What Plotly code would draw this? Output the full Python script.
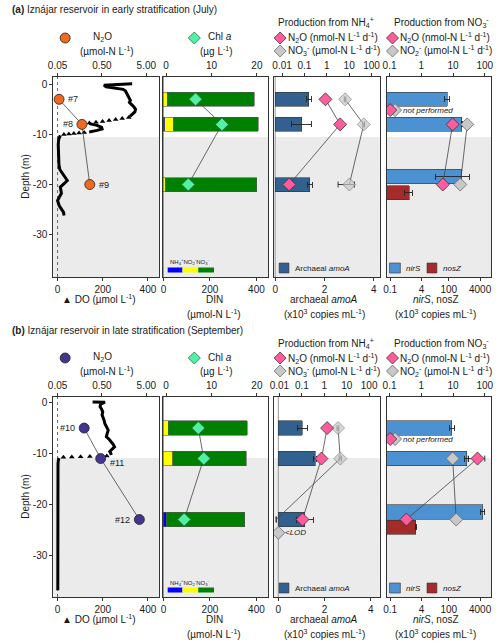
import math
import plotly.graph_objects as go

W, H = 500, 644
FONT = "Liberation Sans, Arial, sans-serif"
TXT = "#1a1a1a"

# ===================== DATA: (a) July =====================
n2o_depth_a = [-3, -8, -20]
n2o_a = [0.054, 0.177, 0.266]
n2o_label_a = ["#7", "#8", "#9"]

do_line_depth_a = [0.1, 0.0, -0.1, -0.2, -0.5, -0.8, -1.0, -1.3, -1.8, -2.3, -2.8, -3.2, -3.6, -4.0, -4.5, -5.0, -5.5, -6.0, -6.4,
                   None, -7.85, -8.2, -8.6, -8.9, -9.2, -9.5,
                   None, -10.2, -10.5, -11, -12, -13, -14, -15, -16, -17, -17.8, -18.6, -19.2, -19.8, -20.5, -21.2, -21.8, -22.5, -23.2, -24.2, -25.0, -25.5, -26.2]
do_line_a = [330, 290, 240, 205, 215, 260, 290, 300, 305, 312, 318, 322, 318, 328, 338, 345, 342, 330, 320,
             None, 140, 175, 195, 197, 175, 140,
             None, 12, 8, 5, 3, 3, 4, 5, 6, 10, 21, 35, 43, 30, 12, 15, 17, 8, 0, 7, 18, 26, 29]
do_tri_depth_a = [-6.6, -6.8, -7.0, -7.2, -7.4, -7.55, -7.7, -9.6, -9.7, -9.8, -9.9, -10.0]
do_tri_a = [315, 286, 257, 228, 199, 170, 141, 118, 95, 72, 50, 28]

din_depth_a = [-3, -8, -20]
nh4_a = [0, 6, 0]
no2_a = [17, 36, 8]
no3_a = [373, 365, 393]
chl_a = [6.5, 12.3, 4.9]

amoA_depth_a = [-3, -8, -20]
amoA_a = [1.37, 1.07, 1.41]
amoA_err_a = [0.1, 0.4, 0.09]
n2o_nh4_a = [0.87, 3.97, 0.021]
n2o_nh4_err_a = [0.05, 0.6, 0.003]
no3_nh4_a = [6.6, 45, 10.2]
no3_nh4_err_a = [0.5, 4, 7]
no3_nh4_lod_a = [False, False, False]

nirS_depth_a = [-3, -8, -18.4]
nirS_a = [81, 465, 470]
nirS_errp_a = [25, 30, 630]
nirS_errm_a = [20, 30, 450]
nosZ_depth_a = [-21.6]
nosZ_a = [0.94]
nosZ_err_a = [0.4]
no3_incub_depth_a = [-8, -20]
n2o_no3_a = [9.7, 4.75]
n2o_no3_errp_a = [1.5, 1.0]
n2o_no3_errm_a = [1.5, 1.0]
no2_no3_a = [28, 16.9]
no2_no3_err_a = [4, 3]
not_performed_depth_a = -3
hypolimnion_top_a = -10.5

# ===================== DATA: (b) September =====================
n2o_depth_b = [-5, -11, -23]
n2o_b = [0.199, 0.468, 3.49]
n2o_label_b = ["#10", "#11", "#12"]

do_line_depth_b = [0.15, 0.2, 0.1, -0.3, -0.8, -1.3, -1.8, -2.4, -3.0, -3.5, -4.1, -4.7, -5.4, -6.0, -6.7, -7.2, -7.7, -8.2, -8.7, -9.2, -9.6, -10.0, -10.3,
                   None, -10.9, -11.2, -12, -14, -17, -20, -25, -30, -35, -36.9]
do_line_b = [155, 185, 210, 190, 188, 195, 200, 197, 203, 206, 209, 215, 224, 220, 216, 228, 238, 246, 252, 242, 231, 236, 238,
             None, 7, 4, 2, 2, 1.5, 1, 1, 1, 1, 1]
do_tri_depth_b = [-10.5, -10.55, -10.6, -10.65, -10.7, -10.75]
do_tri_b = [218, 182, 143, 102, 63, 26]

din_depth_b = [-5, -11, -23]
nh4_b = [0, 0, 11]
no2_b = [21, 39, 0]
no3_b = [339, 318, 339]
chl_b = [7.1, 8.3, 4.0]

amoA_depth_b = [-5, -11, -23]
amoA_b = [1.04, 1.59, 1.15]
amoA_err_b = [0.21, 0.05, 0.38]
n2o_nh4_b = [1.34, 0.75, 0.107]
n2o_nh4_err_b = [0.15, 0.08, 0.015]
no3_nh4_b = [4.1, 5.2, 0.0072]
no3_nh4_err_b = [0.4, 0.6, 0]
no3_nh4_lod_b = [False, False, True]

nirS_depth_b = [-5, -11, -21.5]
nirS_b = [145, 830, 5330]
nirS_errp_b = [45, 200, 1700]
nirS_errm_b = [30, 200, 1000]
nosZ_depth_b = [-24.5]
nosZ_b = [2.06]
nosZ_err_b = [0.2]
no3_incub_depth_b = [-11, -23]
n2o_no3_b = [59, 0.34]
n2o_no3_errp_b = [41, 0.05]
n2o_no3_errm_b = [29, 0.05]
no2_no3_b = [9.7, 12.6]
no2_no3_err_b = [1.5, 1.5]
not_performed_depth_b = -5
hypolimnion_top_b = -10.9

# ===================== STYLE =====================
C_N2O = ["#F06A1E", "#45358C"]
C_CHL = "#52F0A2"
C_NH4, C_NO2, C_NO3 = "#0000FF", "#FFFF00", "#008000"
C_AMOA = "#33618F"
C_NIRS = "#4C92D3"
C_NOSZ = "#A52A2A"
C_PINK = "#FF5C9E"
C_GRAY = "#C8C8C8"
C_BG = "#EBEBEB"
LINK = dict(color="#444", width=0.8)

COLS = [(49, 156), (160, 267), (273, 380), (387, 493)]
ROWS = [(77, 277), (397, 597)]
DEPTH_RANGE = [[-38.46, 1.46], [-38.25, 1.12]]

fig = go.Figure()
shapes, annots = [], []


def sfx(i):
    return "" if i == 1 else str(i)


def A(text, x, y, size=10, xanchor="center", **kw):
    annots.append(dict(text=text, x=x / W, y=1 - y / H, xref="paper", yref="paper", showarrow=False,
                       xanchor=xanchor, yanchor="middle", font=dict(size=size, family=FONT, color=TXT), **kw))


def rect_px(x0, y0, x1, y1, fill, line="#333", lw=0.6):
    shapes.append(dict(type="rect", xref="paper", yref="paper", x0=x0 / W, x1=x1 / W, y0=1 - y1 / H, y1=1 - y0 / H,
                       fillcolor=fill, line=dict(color=line, width=lw)))


def circle_px(x, y, r, fill):
    shapes.append(dict(type="circle", xref="paper", yref="paper", xsizemode="pixel", ysizemode="pixel",
                       xanchor=x / W, yanchor=1 - y / H, x0=-r, x1=r, y0=-r, y1=r,
                       fillcolor=fill, line=dict(color="#222", width=0.8)))


def diamond_px(x, y, r, fill, line="#333"):
    shapes.append(dict(type="path", xref="paper", yref="paper", xsizemode="pixel", ysizemode="pixel",
                       xanchor=x / W, yanchor=1 - y / H, path=f"M0,{-r} L{r},0 L0,{r} L{-r},0 Z",
                       fillcolor=fill, line=dict(color=line, width=0.8)))


def err(arr, minus=None, w=3):
    d = dict(type="data", array=arr, color="#222", thickness=0.9, width=w, visible=True)
    if minus is not None:
        d["arrayminus"] = minus
    return d


rows_data = [
    dict(n2o_depth=n2o_depth_a, n2o=n2o_a, lab=n2o_label_a, side=[1, -1, 1], dy=[0, 0, 0],
         dld=do_line_depth_a, dl=do_line_a, dtd=do_tri_depth_a, dt=do_tri_a,
         din_depth=din_depth_a, nh4=nh4_a, no2=no2_a, no3=no3_a, chl=chl_a,
         amo_depth=amoA_depth_a, amo=amoA_a, amo_err=amoA_err_a,
         pn2o=n2o_nh4_a, pn2o_err=n2o_nh4_err_a, pno3=no3_nh4_a, pno3_err=no3_nh4_err_a, lod=no3_nh4_lod_a,
         nir_depth=nirS_depth_a, nir=nirS_a, nir_ep=nirS_errp_a, nir_em=nirS_errm_a,
         nos_depth=nosZ_depth_a, nos=nosZ_a, nos_err=nosZ_err_a,
         q_depth=no3_incub_depth_a, qn2o=n2o_no3_a, qn2o_ep=n2o_no3_errp_a, qn2o_em=n2o_no3_errm_a,
         qno2=no2_no3_a, qno2_err=no2_no3_err_a, npd=not_performed_depth_a, hypo=hypolimnion_top_a,
         title="<b>(a)</b> Iznájar reservoir in early stratification (July)",
         amo_range=[-0.04, 4.24], p3top=[-2.352, 2.366]),
    dict(n2o_depth=n2o_depth_b, n2o=n2o_b, lab=n2o_label_b, side=[-1, 1, -1], dy=[0, -4, 0],
         dld=do_line_depth_b, dl=do_line_b, dtd=do_tri_depth_b, dt=do_tri_b,
         din_depth=din_depth_b, nh4=nh4_b, no2=no2_b, no3=no3_b, chl=chl_b,
         amo_depth=amoA_depth_b, amo=amoA_b, amo_err=amoA_err_b,
         pn2o=n2o_nh4_b, pn2o_err=n2o_nh4_err_b, pno3=no3_nh4_b, pno3_err=no3_nh4_err_b, lod=no3_nh4_lod_b,
         nir_depth=nirS_depth_b, nir=nirS_b, nir_ep=nirS_errp_b, nir_em=nirS_errm_b,
         nos_depth=nosZ_depth_b, nos=nosZ_b, nos_err=nosZ_err_b,
         q_depth=no3_incub_depth_b, qn2o=n2o_no3_b, qn2o_ep=n2o_no3_errp_b, qn2o_em=n2o_no3_errm_b,
         qno2=no2_no3_b, qno2_err=no2_no3_err_b, npd=not_performed_depth_b, hypo=hypolimnion_top_b,
         title="<b>(b)</b> Iznájar reservoir in late stratification (September)",
         amo_range=[-0.18, 4.39], p3top=[-2.233, 2.47]),
]

layout_axes = {}


def base_axis(**kw):
    d = dict(showgrid=False, zeroline=False, showline=True, linecolor="#333", linewidth=1,
             ticks="outside", ticklen=3, tickwidth=1, tickcolor="#333",
             tickfont=dict(size=10, family=FONT, color=TXT))
    d.update(kw)
    return d


for r, d in enumerate(rows_data):
    oy = 320 * r
    p1, p2, p3, p4 = 4 * r + 1, 4 * r + 2, 4 * r + 3, 4 * r + 4
    t1, t2, t3, t4 = p1 + 8, p2 + 8, p3 + 8, p4 + 8
    yr = DEPTH_RANGE[r]
    ydom = [1 - ROWS[r][1] / H, 1 - ROWS[r][0] / H]

    bottom_specs = [
        dict(type="linear", range=[-18.8, 448], tickvals=[0, 200, 400]),
        dict(type="linear", range=[-3, 451], tickvals=[0, 200, 400]),
        dict(type="linear", range=d["amo_range"], tickvals=[0, 2, 4]),
        dict(type="log", range=[-1.187, 4.167], tickvals=[0.1, 4, 100, 4000], ticktext=["0.1", "4", "100", "4000"]),
    ]
    top_specs = [
        dict(type="log", range=[-1.397, 0.981], tickvals=[0.05, 0.5, 5], ticktext=["0.05", "0.50", "5.00"]),
        dict(type="linear", range=[-0.72, 22.5], tickvals=[0, 10, 20]),
        dict(type="log", range=d["p3top"], tickvals=[0.01, 0.1, 1, 10, 100], ticktext=["0.01", "0.1", "1", "10", "100"]),
        dict(type="log", range=[-1.093, 2.199], tickvals=[0.1, 1, 10, 100], ticktext=["0.1", "1", "10", "100"]),
    ]
    for c in range(4):
        p = 4 * r + c + 1
        t = p + 8
        xdom = [COLS[c][0] / W, COLS[c][1] / W]
        layout_axes["xaxis" + sfx(p)] = base_axis(domain=xdom, anchor="y" + sfx(p), side="bottom", mirror=True,
                                                  **bottom_specs[c])
        layout_axes["xaxis" + sfx(t)] = base_axis(overlaying="x" + sfx(p), anchor="y" + sfx(p), side="top",
                                                  showline=False, **top_specs[c])
        yspec = base_axis(domain=ydom, anchor="x" + sfx(p), range=yr, mirror=True,
                          tickvals=[0, -10, -20, -30], ticktext=["0", "-10", "-20", "-30"])
        if c > 0:
            yspec.update(showticklabels=False, ticks="")
        layout_axes["yaxis" + sfx(p)] = yspec
        # hypolimnion shading
        shapes.append(dict(type="rect", xref="x" + sfx(p) + " domain", yref="y" + sfx(p), x0=0, x1=1,
                           y0=d["hypo"], y1=yr[0], fillcolor=C_BG, line=dict(width=0), layer="below"))

    # zero reference lines
    shapes.append(dict(type="line", xref="x" + sfx(p1), yref="y" + sfx(p1) + " domain", x0=0, x1=0, y0=0, y1=1,
                       line=dict(color="#666", width=1, dash="dot"), layer="below"))
    for p in (p2, p3):
        shapes.append(dict(type="line", xref="x" + sfx(p), yref="y" + sfx(p) + " domain", x0=0, x1=0, y0=0, y1=1,
                           line=dict(color="#999", width=1), layer="below"))

    # ---- Panel 1: DO profile and N2O ----
    fig.add_trace(go.Scatter(x=d["dl"], y=d["dld"], mode="lines", line=dict(color="black", width=3),
                             connectgaps=False, xaxis="x" + sfx(p1), yaxis="y" + sfx(p1)))
    fig.add_trace(go.Scatter(x=d["dt"], y=d["dtd"], mode="markers",
                             marker=dict(symbol="triangle-up", size=5, color="black"),
                             xaxis="x" + sfx(p1), yaxis="y" + sfx(p1)))
    fig.add_trace(go.Scatter(x=d["n2o"], y=d["n2o_depth"], mode="lines+markers", line=LINK,
                             marker=dict(size=10, color=C_N2O[r], line=dict(color="#222", width=0.8)),
                             xaxis="x" + sfx(t1), yaxis="y" + sfx(p1)))
    for v, dep, lab, s, sy in zip(d["n2o"], d["n2o_depth"], d["lab"], d["side"], d["dy"]):
        annots.append(dict(text=lab, x=math.log10(v), y=dep, xref="x" + sfx(t1), yref="y" + sfx(p1),
                           showarrow=False, xanchor="left" if s > 0 else "right", xshift=7 * s, yshift=sy,
                           font=dict(size=9, family=FONT, color=TXT)))

    # ---- Panel 2: DIN stacked bars + Chl a ----
    for vals, col in ((d["nh4"], C_NH4), (d["no2"], C_NO2), (d["no3"], C_NO3)):
        fig.add_trace(go.Bar(x=vals, y=d["din_depth"], orientation="h", width=2.8,
                             marker=dict(color=col, line=dict(color="#555", width=0.6)),
                             xaxis="x" + sfx(p2), yaxis="y" + sfx(p2)))
    fig.add_trace(go.Scatter(x=d["chl"], y=d["din_depth"], mode="lines+markers", line=LINK,
                             marker=dict(symbol="diamond", size=10, color=C_CHL, line=dict(color="#2a6a4a", width=0.8)),
                             xaxis="x" + sfx(t2), yaxis="y" + sfx(p2)))

    # ---- Panel 3: archaeal amoA + production from NH4+ ----
    fig.add_trace(go.Bar(x=d["amo"], y=d["amo_depth"], orientation="h", width=2.8,
                         marker=dict(color=C_AMOA, line=dict(color="#333", width=0.6)),
                         error_x=err(d["amo_err"]), xaxis="x" + sfx(p3), yaxis="y" + sfx(p3)))
    sizes = [0 if l else 10 for l in d["lod"]]
    fig.add_trace(go.Scatter(x=d["pno3"], y=d["amo_depth"], mode="lines+markers", line=LINK,
                             marker=dict(symbol="diamond", size=sizes, color=C_GRAY, line=dict(color="#666", width=0.8)),
                             error_x=err(d["pno3_err"]), xaxis="x" + sfx(t3), yaxis="y" + sfx(p3)))
    fig.add_trace(go.Scatter(x=d["pn2o"], y=d["amo_depth"], mode="lines+markers", line=LINK,
                             marker=dict(symbol="diamond", size=10, color=C_PINK, line=dict(color="#333", width=0.8)),
                             error_x=err(d["pn2o_err"]), xaxis="x" + sfx(t3), yaxis="y" + sfx(p3)))
    for l, dep in zip(d["lod"], d["amo_depth"]):
        if l:
            fig.add_trace(go.Scatter(x=[0.009], y=[dep - 2.6], mode="markers",
                                     marker=dict(symbol="diamond", size=10, color=C_GRAY, line=dict(color="#666", width=0.8)),
                                     xaxis="x" + sfx(t3), yaxis="y" + sfx(p3)))
            annots.append(dict(text="<i>&lt;LOD</i>", x=math.log10(0.009), y=dep - 2.6, xref="x" + sfx(t3),
                               yref="y" + sfx(p3), showarrow=False, xanchor="left", xshift=5,
                               font=dict(size=8, family=FONT, color=TXT)))

    # ---- Panel 4: nirS / nosZ + production from NO3- ----
    fig.add_trace(go.Bar(x=d["nir"], y=d["nir_depth"], orientation="h", width=2.8,
                         marker=dict(color=C_NIRS, line=dict(color="#333", width=0.6)),
                         error_x=err(d["nir_ep"], d["nir_em"]), xaxis="x" + sfx(p4), yaxis="y" + sfx(p4)))
    fig.add_trace(go.Bar(x=d["nos"], y=d["nos_depth"], orientation="h", width=2.8,
                         marker=dict(color=C_NOSZ, line=dict(color="#333", width=0.6)),
                         error_x=err(d["nos_err"]), xaxis="x" + sfx(p4), yaxis="y" + sfx(p4)))
    fig.add_trace(go.Scatter(x=d["qno2"], y=d["q_depth"], mode="lines+markers", line=LINK,
                             marker=dict(symbol="diamond", size=10, color=C_GRAY, line=dict(color="#666", width=0.8)),
                             error_x=err(d["qno2_err"]), xaxis="x" + sfx(t4), yaxis="y" + sfx(p4)))
    fig.add_trace(go.Scatter(x=d["qn2o"], y=d["q_depth"], mode="lines+markers", line=LINK,
                             marker=dict(symbol="diamond", size=10, color=C_PINK, line=dict(color="#333", width=0.8)),
                             error_x=err(d["qn2o_ep"], d["qn2o_em"]), xaxis="x" + sfx(t4), yaxis="y" + sfx(p4)))
    # "not performed" placeholder
    npy = d["npd"] - 2.15
    fig.add_trace(go.Scatter(x=[0.15], y=[npy], mode="markers",
                             marker=dict(symbol="diamond", size=10, color=C_GRAY, line=dict(color="#666", width=0.8)),
                             xaxis="x" + sfx(t4), yaxis="y" + sfx(p4)))
    fig.add_trace(go.Scatter(x=[0.105], y=[npy], mode="markers",
                             marker=dict(symbol="diamond", size=10, color=C_PINK, line=dict(color="#333", width=0.8)),
                             xaxis="x" + sfx(t4), yaxis="y" + sfx(p4)))
    annots.append(dict(text="<i>not performed</i>", x=-0.64, y=npy, xref="x" + sfx(t4), yref="y" + sfx(p4),
                       showarrow=False, xanchor="left", font=dict(size=8, family=FONT, color=TXT)))

    # ---- Titles, headers, axis titles ----
    A(d["title"], 5, 10 + oy, size=10, xanchor="left")
    circle_px(61, 38 + oy, 5, C_N2O[r])
    A("N<sub>2</sub>O", 99, 37 + oy)
    A("(µmol-N L<sup>-1</sup>)", 103, 51 + oy)
    diamond_px(192, 38 + oy, 6, C_CHL, "#2a6a4a")
    A("Chl <i>a</i>", 218, 37 + oy)
    A("(µg L<sup>-1</sup>)", 214, 51 + oy)
    A("Production from NH<sub>4</sub><sup>+</sup>", 326, 23 + oy)
    diamond_px(279, 38 + oy, 6, C_PINK)
    A("N<sub>2</sub>O (nmol-N L<sup>-1</sup> d<sup>-1</sup>)", 285, 38 + oy, xanchor="left")
    diamond_px(279, 51 + oy, 6, C_GRAY, "#666")
    A("NO<sub>3</sub><sup>-</sup> (µmol-N L<sup>-1</sup> d<sup>-1</sup>)", 285, 51 + oy, xanchor="left")
    A("Production from NO<sub>3</sub><sup>-</sup>", 443, 23 + oy)
    diamond_px(393, 38 + oy, 6, C_PINK)
    A("N<sub>2</sub>O (nmol-N L<sup>-1</sup> d<sup>-1</sup>)", 399, 38 + oy, xanchor="left")
    diamond_px(393, 51 + oy, 6, C_GRAY, "#666")
    A("NO<sub>2</sub><sup>-</sup> (µmol-N L<sup>-1</sup> d<sup>-1</sup>)", 399, 51 + oy, xanchor="left")

    A("Depth (m)", 20, 177 + oy, textangle=-90)

    A("▲ DO (µmol L<sup>-1</sup>)", 95, 299 + oy)
    A("DIN", 212, 299 + oy)
    A("(µmol-N L<sup>-1</sup>)", 212, 314 + oy)
    A("archaeal <i>amoA</i>", 324, 299 + oy)
    A("(x10<sup>3</sup> copies mL<sup>-1</sup>)", 324, 314 + oy)
    A("<i>nirS</i>, nosZ", 437, 299 + oy)
    A("(x10<sup>3</sup> copies mL<sup>-1</sup>)", 437, 314 + oy)

    # in-panel legends
    A("NH<sub>4</sub><sup>+</sup>NO<sub>2</sub><sup>-</sup>NO<sub>3</sub><sup>-</sup>", 165, 262 + oy, size=6,
      xanchor="left")
    rect_px(165, 267.5 + oy, 180, 272.5 + oy, C_NH4, line=C_NH4, lw=0)
    rect_px(180, 267.5 + oy, 196, 272.5 + oy, C_NO2, line=C_NO2, lw=0)
    rect_px(196, 267.5 + oy, 212, 272.5 + oy, C_NO3, line=C_NO3, lw=0)
    rect_px(278, 263 + oy, 288, 273 + oy, C_AMOA)
    A("Archaeal <i>amoA</i>", 292, 268 + oy, size=8, xanchor="left")
    rect_px(390, 263 + oy, 401, 273 + oy, C_NIRS)
    A("<i>nirS</i>", 405, 268 + oy, size=8, xanchor="left")
    rect_px(428, 263 + oy, 438, 273 + oy, C_NOSZ)
    A("<i>nosZ</i>", 442, 268 + oy, size=8, xanchor="left")

fig.update_layout(width=W, height=H, margin=dict(l=0, r=0, t=0, b=0), paper_bgcolor="white",
                  plot_bgcolor="rgba(0,0,0,0)", showlegend=False, barmode="stack",
                  font=dict(family=FONT, size=10, color=TXT), shapes=shapes, annotations=annots, **layout_axes)

fig.write_html("out.html", config={"displayModeBar": False},
               post_script="document.body.style.margin='0';document.body.style.overflow='hidden';")
